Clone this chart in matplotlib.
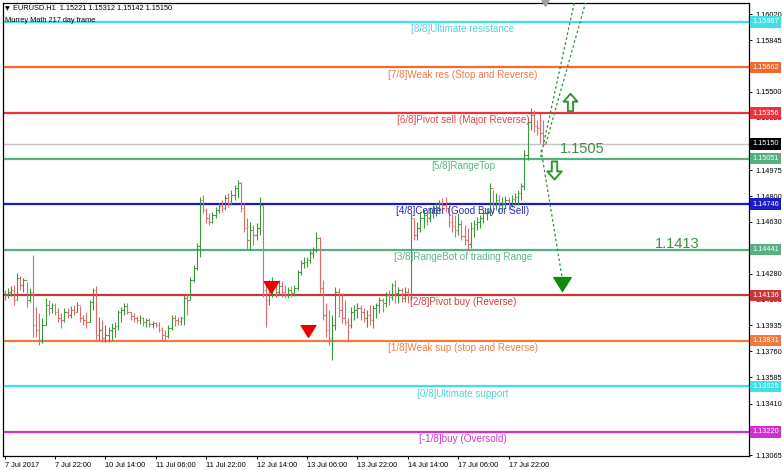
import matplotlib
matplotlib.use("Agg")
import matplotlib.pyplot as plt
from matplotlib.path import Path
from matplotlib.lines import Line2D

plt.rcParams['font.family'] = ['Liberation Sans', 'DejaVu Sans']

# ---- EURUSD H1 bars (7 Jul 06:00 .. 18 Jul 09:00) ----
first_open = 1.14151
highs = [
    1.14171, 1.14184, 1.14198, 1.14205, 1.14285, 1.14265, 1.14251, 1.14225, 1.14184, 1.14406,
    1.14057, 1.14017, 1.13983, 1.14117, 1.14104, 1.14084, 1.14084, 1.14050, 1.14017, 1.14050,
    1.14050, 1.14064, 1.14071, 1.14091, 1.14064, 1.14004, 1.14024, 1.14104, 1.14184, 1.14198,
    1.13990, 1.13970, 1.13937, 1.13923, 1.13950, 1.13957, 1.14037, 1.14057, 1.14084, 1.14084,
    1.14024, 1.14017, 1.13997, 1.14004, 1.13990, 1.13983, 1.13983, 1.13963, 1.13957, 1.13957,
    1.13923, 1.13903, 1.13937, 1.14004, 1.14004, 1.13990, 1.13997, 1.14138, 1.14151, 1.14258,
    1.14339, 1.14486, 1.14794, 1.14808, 1.14720, 1.14687, 1.14694, 1.14727, 1.14754, 1.14774,
    1.14808, 1.14821, 1.14841, 1.14875, 1.14908, 1.14895, 1.14754, 1.14653, 1.14627, 1.14607,
    1.14620, 1.14794, 1.14741, 1.14205, 1.14238, 1.14258, 1.14225, 1.14238, 1.14231, 1.14205,
    1.14191, 1.14198, 1.14205, 1.14305, 1.14372, 1.14392, 1.14392, 1.14439, 1.14459, 1.14560,
    1.14526, 1.14238, 1.14084, 1.14037, 1.14004, 1.14191, 1.14184, 1.14151, 1.14104, 1.13983,
    1.14057, 1.14071, 1.14084, 1.14071, 1.14050, 1.14037, 1.14071, 1.14071, 1.14084, 1.14124,
    1.14117, 1.14158, 1.14171, 1.14218, 1.14238, 1.14191, 1.14184, 1.14191, 1.14184, 1.14687,
    1.14653, 1.14627, 1.14694, 1.14707, 1.14707, 1.14727, 1.14741, 1.14754, 1.14774, 1.14787,
    1.14794, 1.14741, 1.14687, 1.14674, 1.14687, 1.14640, 1.14607, 1.14586, 1.14627, 1.14640,
    1.14660, 1.14674, 1.14707, 1.14720, 1.14888, 1.14841, 1.14821, 1.14808, 1.14794, 1.14801,
    1.14794, 1.14808, 1.14821, 1.14841, 1.14888, 1.15109, 1.15324, 1.15390, 1.15377, 1.15310,
    1.15357, 1.15312,
]
lows = [
    1.14104, 1.14117, 1.14131, 1.14071, 1.14104, 1.14171, 1.14158, 1.14057, 1.14091, 1.13856,
    1.13856, 1.13803, 1.13816, 1.13937, 1.14004, 1.14017, 1.14004, 1.13957, 1.13916, 1.13957,
    1.13983, 1.13983, 1.14004, 1.14024, 1.13957, 1.13937, 1.13916, 1.13957, 1.14037, 1.13836,
    1.13836, 1.13823, 1.13823, 1.13823, 1.13836, 1.13856, 1.13903, 1.13957, 1.14004, 1.14010,
    1.13970, 1.13957, 1.13950, 1.13943, 1.13930, 1.13923, 1.13923, 1.13916, 1.13923, 1.13890,
    1.13836, 1.13829, 1.13849, 1.13903, 1.13930, 1.13937, 1.13937, 1.13937, 1.14004, 1.14104,
    1.14225, 1.14305, 1.14392, 1.14687, 1.14620, 1.14607, 1.14620, 1.14653, 1.14687, 1.14694,
    1.14707, 1.14727, 1.14741, 1.14774, 1.14787, 1.14694, 1.14560, 1.14439, 1.14439, 1.14472,
    1.14506, 1.14539, 1.14124, 1.13923, 1.14071, 1.14124, 1.14124, 1.14138, 1.14124, 1.14117,
    1.14117, 1.14124, 1.14131, 1.14171, 1.14272, 1.14318, 1.14325, 1.14352, 1.14388, 1.14426,
    1.14151, 1.13970, 1.13856, 1.13803, 1.13702, 1.13903, 1.13990, 1.13950, 1.13937, 1.13823,
    1.13916, 1.13970, 1.13983, 1.13970, 1.13957, 1.13923, 1.13937, 1.13916, 1.13983, 1.14017,
    1.14024, 1.14057, 1.14071, 1.14104, 1.14084, 1.14084, 1.14091, 1.14091, 1.14084, 1.14104,
    1.14506, 1.14506, 1.14560, 1.14586, 1.14607, 1.14627, 1.14653, 1.14667, 1.14694, 1.14707,
    1.14694, 1.14593, 1.14560, 1.14526, 1.14539, 1.14506, 1.14472, 1.14439, 1.14452, 1.14526,
    1.14573, 1.14586, 1.14620, 1.14640, 1.14674, 1.14687, 1.14707, 1.14694, 1.14707, 1.14720,
    1.14707, 1.14727, 1.14741, 1.14741, 1.14774, 1.14841, 1.15042, 1.15243, 1.15230, 1.15210,
    1.15156, 1.15142,
]
closes = [
    1.14138, 1.14158, 1.14171, 1.14104, 1.14251, 1.14205, 1.14238, 1.14104, 1.14158, 1.13937,
    1.13903, 1.13836, 1.13937, 1.14071, 1.14050, 1.14071, 1.14024, 1.13983, 1.13970, 1.14024,
    1.14004, 1.14037, 1.14024, 1.14071, 1.13983, 1.13970, 1.13957, 1.14091, 1.14171, 1.13870,
    1.13903, 1.13849, 1.13870, 1.13903, 1.13916, 1.13930, 1.14024, 1.14037, 1.14064, 1.14024,
    1.13997, 1.13983, 1.13970, 1.13983, 1.13957, 1.13970, 1.13943, 1.13950, 1.13937, 1.13903,
    1.13870, 1.13863, 1.13916, 1.13983, 1.13970, 1.13963, 1.13983, 1.14117, 1.14104, 1.14238,
    1.14318, 1.14466, 1.14774, 1.14707, 1.14653, 1.14627, 1.14674, 1.14707, 1.14734, 1.14720,
    1.14787, 1.14754, 1.14808, 1.14854, 1.14888, 1.14720, 1.14586, 1.14506, 1.14573, 1.14539,
    1.14586, 1.14741, 1.14171, 1.14104, 1.14171, 1.14205, 1.14158, 1.14198, 1.14158, 1.14138,
    1.14171, 1.14151, 1.14184, 1.14292, 1.14352, 1.14359, 1.14372, 1.14419, 1.14439, 1.14519,
    1.14184, 1.14004, 1.13903, 1.13849, 1.13937, 1.14158, 1.14037, 1.13983, 1.13957, 1.13937,
    1.14024, 1.14037, 1.14050, 1.14024, 1.13983, 1.14004, 1.13970, 1.14050, 1.14071, 1.14104,
    1.14084, 1.14138, 1.14124, 1.14205, 1.14151, 1.14171, 1.14117, 1.14158, 1.14138, 1.14653,
    1.14539, 1.14586, 1.14653, 1.14674, 1.14653, 1.14694, 1.14707, 1.14727, 1.14754, 1.14741,
    1.14720, 1.14627, 1.14600, 1.14573, 1.14613, 1.14533, 1.14506, 1.14479, 1.14586, 1.14613,
    1.14627, 1.14653, 1.14687, 1.14694, 1.14854, 1.14741, 1.14774, 1.14741, 1.14754, 1.14774,
    1.14741, 1.14781, 1.14794, 1.14821, 1.14868, 1.15076, 1.15297, 1.15344, 1.15270, 1.15257,
    1.15221, 1.15150,
]
opens = [first_open] + closes[:-1]

# ---- Murrey Math levels ----
level_values = [1.15967, 1.15662, 1.15356, 1.15051, 1.14746, 1.14441, 1.14136, 1.13831, 1.13525, 1.13220]
level_names = [
    "[8/8]Ultimate resistance", "[7/8]Weak res (Stop and Reverse)", "[6/8]Pivot sell (Major Reverse)",
    "[5/8]RangeTop", "[4/8]Center (Good Buy or Sell)", "[3/8]RangeBot of trading Range",
    "[2/8]Pivot buy (Reverse)", "[1/8]Weak sup (stop and Reverse)", "[0/8]Ultimate support",
    "[-1/8]buy (Oversold)",
]
level_colors = ['#3fe0e6', '#f2692e', '#e8343a', '#55b07f', '#1a1ac8',
                '#55b07f', '#cc3535', '#f07a3c', '#3fe0e6', '#d22fd2']
level_text_colors = ['#4fd3dd', '#f07a4e', '#e0484c', '#5fb488', '#2a2ab8',
                     '#5fb488', '#cc4040', '#f08048', '#4fd3dd', '#cc38cc']
current_price = 1.15150

price_ticks = [1.16020, 1.15845, 1.15500, 1.15325, 1.14975, 1.14800, 1.14630,
               1.14280, 1.14105, 1.13935, 1.13760, 1.13585, 1.13410, 1.13065]
time_tick_pos = [0, 16, 32, 48, 64, 80, 96, 112, 128, 144, 160]
time_tick_labels = ["7 Jul 2017", "7 Jul 22:00", "10 Jul 14:00", "11 Jul 06:00", "11 Jul 22:00",
                    "12 Jul 14:00", "13 Jul 06:00", "13 Jul 22:00", "14 Jul 14:00",
                    "17 Jul 06:00", "17 Jul 22:00"]

# projection lines and markers, in (bar index, price)
proj_up_a = ([170.2, 181.9], [1.15062, 1.16200])
proj_up_b = ([171.8, 185.8], [1.15150, 1.16200])
proj_down = ([170.3, 177.0], [1.15109, 1.14251])
target_marker = (176.8, 1.14211)
sell_markers_x = [84.6, 96.2]
sell_markers_y = [1.14191, 1.13896]
up_arrow = (179.5, 1.15434)
down_arrow = (174.4, 1.14978)
callouts = [("1.1505", 183.3, 1.15116), ("1.1413", 213.5, 1.14479)]

W, H = 782, 470
fig = plt.figure(figsize=(W / 100, H / 100), dpi=100)
ax = fig.add_axes([3 / W, 1 - 456 / H, (749 - 3) / W, (456 - 3) / H])
ax.set_xlim(-0.5, 236.3)
ax.set_ylim(1.13059, 1.16094)

up_col, dn_col = '#3a983a', '#e36a6a'
n = len(closes)
xs = list(range(n))
cols = [up_col if c >= o else dn_col for o, c in zip(opens, closes)]
ax.vlines(xs, lows, highs, colors=cols, lw=0.8, zorder=3)
ax.hlines(opens, [x - 0.45 for x in xs], xs, colors=cols, lw=0.8, zorder=3)
ax.hlines(closes, xs, [x + 0.45 for x in xs], colors=cols, lw=0.8, zorder=3)

# levels
for v, name, c, tc in zip(level_values, level_names, level_colors, level_text_colors):
    ax.axhline(v, color=c, lw=1.6, zorder=2)
    ax.annotate(name, xy=(145.5, v), xytext=(0, -1.5), textcoords='offset points',
                ha='center', va='top', fontsize=7.1, color=tc, zorder=4)
    ax.annotate(f"{v:.5f}", xy=(1.0, v), xycoords=('axes fraction', 'data'),
                xytext=(2.2, 0), textcoords='offset points', ha='left', va='center',
                fontsize=5.3, color='white', zorder=6, annotation_clip=False,
                bbox=dict(boxstyle='square,pad=0.3', fc=c, ec='none'))
ax.axhline(current_price, color='#c4c4c4', lw=1.0, zorder=1)
ax.annotate(f"{current_price:.5f}", xy=(1.0, current_price), xycoords=('axes fraction', 'data'),
            xytext=(2.2, 0), textcoords='offset points', ha='left', va='center',
            fontsize=5.3, color='white', zorder=6, annotation_clip=False,
            bbox=dict(boxstyle='square,pad=0.3', fc='black', ec='none'))

# projections
dot = dict(color='#2f8f2f', lw=0.9, ls=(0, (2.0, 2.0)), zorder=4)
ax.plot(*proj_up_a, **dot)
ax.plot(*proj_up_b, **dot)
ax.plot(*proj_down, **dot)
tri = Path([(-1, 0.8), (1, 0.8), (0, -0.8), (-1, 0.8)], closed=True)
ax.plot(*target_marker, marker=tri, ms=12.5, color='#118811', mec='#118811', zorder=5)
ax.plot(sell_markers_x, sell_markers_y, ls='none', marker=tri, ms=10.5,
        color='#ee0000', mec='#ee0000', zorder=5)

arrow_up = Path([(-0.3, -1), (0.3, -1), (0.3, 0.1), (0.8, 0.1), (0, 1),
                 (-0.8, 0.1), (-0.3, 0.1), (-0.3, -1)], closed=True)
arrow_dn = Path([(-0.3, 1), (0.3, 1), (0.3, -0.1), (0.8, -0.1), (0, -1),
                 (-0.8, -0.1), (-0.3, -0.1), (-0.3, 1)], closed=True)
ax.plot(*up_arrow, marker=arrow_up, ms=12.5, mfc='white', mec='#2f962f', mew=1.4, zorder=5)
ax.plot(*down_arrow, marker=arrow_dn, ms=13, mfc='white', mec='#2f962f', mew=1.4, zorder=5)
for txt, xi, yv in callouts:
    ax.text(xi, yv, txt, ha='center', va='center', fontsize=10.5, color='#3a923a', zorder=5)

# axes styling
for s in ax.spines.values():
    s.set_color('black')
    s.set_linewidth(0.9)
ax.yaxis.tick_right()
ax.set_yticks(price_ticks)
ax.set_yticklabels([f"{p:.5f}" for p in price_ticks])
ax.tick_params(axis='y', direction='out', length=2.5, width=0.7, labelsize=5.3, pad=2,
               colors='black')
ax.set_xticks(time_tick_pos)
ax.set_xticklabels(time_tick_labels)
for lab in ax.get_xticklabels():
    lab.set_ha('left')
ax.tick_params(axis='x', direction='out', length=2.5, width=0.7, labelsize=5.3, pad=1.5,
               colors='black')

# header text
fig.text(5 / W, 1 - 9 / H, "\u25bc", fontsize=4.5, color='black', va='center', ha='left',
         family='DejaVu Sans')
fig.text(13 / W, 1 - 9 / H, "EURUSD.H1  1.15221 1.15312 1.15142 1.15150", fontsize=5.3,
         color='black', va='center', ha='left')
fig.text(5 / W, 1 - 20 / H, "Murrey Math 217 day frame", fontsize=5.3, color='black',
         va='center', ha='left')
# chart shift marker
fig.add_artist(Line2D([545 / W], [1 - 3 / H], marker=tri, ms=5, color='#a0a0a0',
                      transform=fig.transFigure))

fig.savefig("out.png", dpi=100, facecolor='white')
